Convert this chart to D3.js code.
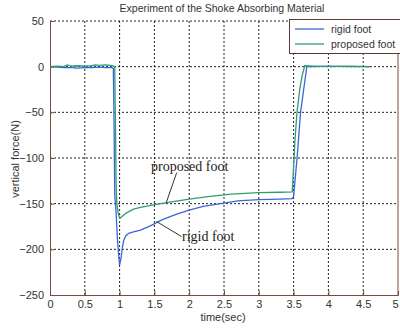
<!DOCTYPE html>
<html><head><meta charset="utf-8">
<script src="https://cdn.jsdelivr.net/npm/d3@7"></script>
<style>body{margin:0;background:#fff;}svg{display:block;}</style>
</head><body>
<svg id="c" width="400" height="329"></svg>
<script>
const title = "Experiment of the Shoke Absorbing Material";
const xLabel = "time(sec)";
const yLabel = "vertical force(N)";
const xTicks = [0,0.5,1,1.5,2,2.5,3,3.5,4,4.5,5];
const yTicks = [50,0,-50,-100,-150,-200,-250];
const seriesNames = ["rigid foot","proposed foot"];
const seriesColors = ["#3c64d8","#2e9e72"];
const rigidT = [0,0.1,0.2,0.3,0.4,0.5,0.6,0.7,0.8,0.9,0.91,0.92,0.93,0.95,0.97,0.99,1.0,1.02,1.04,1.06,1.09,1.13,1.2,1.3,1.45,1.6,1.8,2.0,2.2,2.45,2.7,3.0,3.3,3.48,3.5,3.55,3.6,3.65,3.69,3.8,4.0,4.3,4.6];
const rigidV = [0,-0.5,-1,-1,-1.5,-1,-1,-0.5,-1,-1,-2,-60,-140,-160,-190,-210,-217,-210,-198,-190,-185,-182.5,-181,-179,-174,-168,-162,-157,-153,-150,-147,-145.5,-145,-144.5,-142,-100,-50,-22,0,0,0.5,0,0];
const propT = [0,0.1,0.2,0.25,0.3,0.4,0.5,0.6,0.65,0.7,0.8,0.9,0.93,0.94,0.95,0.96,0.98,1.0,1.02,1.05,1.1,1.2,1.3,1.5,1.7,2.0,2.3,2.6,3.0,3.3,3.48,3.5,3.52,3.55,3.59,3.62,3.66,3.8,4.0,4.3,4.6];
const propV = [0,0.5,0,2,0.5,1,0.5,1,2,1.5,2,1,0,-60,-130,-150,-160,-166,-165,-163,-160,-156,-154,-151,-148.5,-145,-142,-139.5,-138,-137.5,-137,-110,-80,-49,-24,-11,1,0.5,0,0.5,0];

const svg = d3.select("#c");
const x = d3.scaleLinear().domain([0,5]).range([50,398]);
const y = d3.scaleLinear().domain([-250,50]).range([295,21]);
const font = "Arial, 'Liberation Sans', sans-serif";

// grid
const g = svg.append("g");
xTicks.slice(1,-1).forEach(t=>{
  g.append("line").attr("x1",x(t)).attr("x2",x(t)).attr("y1",y(50)).attr("y2",y(-250))
   .attr("stroke","#222").attr("stroke-width",1).attr("stroke-dasharray","2,2");
});
yTicks.slice(0,-1).forEach(v=>{
  g.append("line").attr("x1",x(0)).attr("x2",x(5)).attr("y1",y(v)).attr("y2",y(v))
   .attr("stroke","#222").attr("stroke-width",1).attr("stroke-dasharray","2,2");
});

// axes
const xAxis = d3.axisBottom(x).tickValues(xTicks).tickSize(-4).tickPadding(5).tickFormat(d3.format("~g"));
const yAxis = d3.axisLeft(y).tickValues(yTicks).tickSize(-4).tickPadding(6).tickFormat(d3.format("~g"));
const ax = svg.append("g").attr("transform",`translate(0,${y(-250)})`).call(xAxis);
const ay = svg.append("g").attr("transform",`translate(${x(0)},0)`).call(yAxis);
[ax,ay].forEach(a=>{
  a.select(".domain").attr("stroke","#7a4a40");
  a.selectAll(".tick line").attr("stroke","#7a4a40");
  a.selectAll("text").attr("font-family",font).attr("font-size",11).attr("fill","#333");
});
ay.selectAll(".tick text").attr("dy","0.32em");
ax.selectAll(".tick text").filter(d=>d===5).attr("dx",-3);
// right border
svg.append("line").attr("x1",x(5)).attr("x2",x(5)).attr("y1",y(50)).attr("y2",y(-250)).attr("stroke","#7a4a40");

// lines
const line = d3.line().x(d=>x(d[0])).y(d=>y(d[1]));
const rigid = rigidT.map((t,i)=>[t,rigidV[i]]);
const prop = propT.map((t,i)=>[t,propV[i]]);
svg.append("path").attr("d",line(rigid)).attr("fill","none").attr("stroke",seriesColors[0]).attr("stroke-width",1.3);
svg.append("path").attr("d",line(prop)).attr("fill","none").attr("stroke",seriesColors[1]).attr("stroke-width",1.3);

// title & labels
svg.append("text").attr("x",222).attr("y",12).attr("text-anchor","middle").attr("font-family",font).attr("font-size",10.5).attr("fill","#333").text(title);
svg.append("text").attr("x",223).attr("y",321).attr("text-anchor","middle").attr("font-family",font).attr("font-size",11).attr("fill","#333").text(xLabel);
svg.append("text").attr("transform","translate(19,159) rotate(-90)").attr("text-anchor","middle").attr("font-family",font).attr("font-size",11).attr("fill","#333").text(yLabel);

// legend
const lg = svg.append("g");
lg.append("rect").attr("x",289.5).attr("y",19.5).attr("width",120).attr("height",34).attr("fill","#fff").attr("stroke","#5a3a34");
seriesNames.forEach((n,i)=>{
  const yy = 29 + i*15;
  lg.append("line").attr("x1",295).attr("x2",324).attr("y1",yy).attr("y2",yy).attr("stroke",seriesColors[i]).attr("stroke-width",1.3);
  lg.append("text").attr("x",331).attr("y",yy+3.5).attr("font-family",font).attr("font-size",10.5).attr("fill","#333").text(n);
});

// annotations
const serif = "'Liberation Serif','Times New Roman',serif";
svg.append("line").attr("x1",x(1.82)).attr("y1",y(-116)).attr("x2",x(1.67)).attr("y2",y(-149)).attr("stroke","#333");
svg.append("text").attr("x",151).attr("y",171).attr("font-family",serif).attr("font-size",14).attr("fill","#222").text("proposed foot");
svg.append("line").attr("x1",x(1.53)).attr("y1",y(-169.5)).attr("x2",x(1.89)).attr("y2",y(-186)).attr("stroke","#333");
svg.append("text").attr("x",182).attr("y",241).attr("font-family",serif).attr("font-size",14).attr("fill","#222").text("rigid foot");
</script>
</body></html>
